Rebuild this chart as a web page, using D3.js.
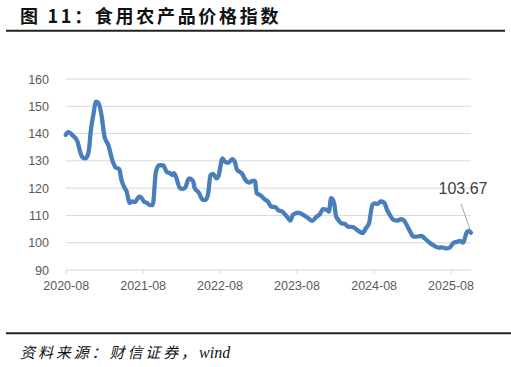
<!DOCTYPE html>
<html>
<head>
<meta charset="utf-8">
<script src="https://cdn.jsdelivr.net/npm/d3@7"></script>
<style>
  html, body { margin: 0; padding: 0; background: #fff; }
  svg { display: block; }
</style>
</head>
<body>
<svg id="chart" width="511" height="367"></svg>
<script>
const titleText = "图 11：食用农产品价格指数";
const sourceText = "资料来源：财信证券，";
const sourceLatin = "wind";
const yTicks = [90, 100, 110, 120, 130, 140, 150, 160];
const xTickDates = ["2020-08-01", "2021-08-01", "2022-08-01", "2023-08-01", "2024-08-01", "2025-08-01"];
const lastLabel = "103.67";

const dates = [
  "2020-08-01","2020-08-13","2020-09-06","2020-09-25","2020-10-08","2020-10-20","2020-11-01","2020-11-14",
  "2020-11-21","2020-11-27","2020-12-10","2020-12-23","2021-01-03","2021-01-19","2021-02-01","2021-02-19",
  "2021-03-13","2021-03-26","2021-04-12","2021-04-22","2021-05-08","2021-05-16","2021-06-01","2021-06-12",
  "2021-06-25","2021-07-16","2021-07-26","2021-08-07","2021-08-19","2021-09-05","2021-09-18","2021-10-03",
  "2021-10-19","2021-11-07","2021-11-23","2021-12-08","2021-12-21","2021-12-27","2022-01-06","2022-01-25",
  "2022-02-07","2022-02-19","2022-03-09","2022-03-28","2022-04-05","2022-04-24","2022-05-14","2022-05-27",
  "2022-06-08","2022-06-19","2022-07-01","2022-07-17","2022-07-26","2022-08-15","2022-08-26","2022-09-11",
  "2022-09-30","2022-10-12","2022-10-23","2022-11-14","2022-12-04","2022-12-19","2023-01-05","2023-01-16",
  "2023-01-24","2023-02-09","2023-03-03","2023-03-18","2023-04-04","2023-04-24","2023-05-05","2023-05-26",
  "2023-06-14","2023-07-03","2023-07-15","2023-08-08","2023-09-02","2023-09-25","2023-10-16","2023-11-01",
  "2023-11-20","2023-12-05","2023-12-24","2024-01-02","2024-01-12","2024-01-26","2024-02-05","2024-02-15",
  "2024-03-01","2024-03-17","2024-04-02","2024-04-26","2024-05-14","2024-06-10","2024-06-25","2024-07-10",
  "2024-07-26","2024-08-07","2024-08-20","2024-09-03","2024-09-20","2024-10-04","2024-10-17","2024-11-02",
  "2024-11-23","2024-12-07","2024-12-19","2025-01-05","2025-01-21","2025-02-06","2025-02-22","2025-03-15",
  "2025-03-31","2025-04-24","2025-05-17","2025-06-03","2025-06-23","2025-07-12","2025-07-28","2025-08-16",
  "2025-09-02","2025-09-14","2025-09-30","2025-10-16","2025-10-28","2025-11-06"
];
const values = [
  139.5,140.5,139.1,137.3,133.4,131.3,130.9,132.2,
  135.2,140.3,146.8,151.7,151.3,146.2,138.9,135.8,
  129.6,127.6,127.0,123.2,120.0,119.0,114.6,115.1,
  114.9,116.9,116.5,115.1,114.7,113.8,113.8,126.0,
  128.4,128.3,126.0,125.5,124.8,125.5,124.2,120.0,
  119.7,120.2,123.6,122.7,120.0,118.4,115.7,115.7,
  118.1,124.8,125.2,123.6,124.2,130.9,129.7,129.3,
  130.6,129.7,126.7,125.5,122.8,122.0,122.7,122.7,
  118.1,117.5,115.9,115.1,113.2,113.0,112.0,111.4,
  109.8,108.1,110.2,111.0,110.2,109.0,108.0,109.3,
  110.5,112.3,112.0,111.4,116.3,114.7,109.6,108.4,
  107.1,106.9,105.9,105.7,104.7,103.5,105.3,107.1,
  113.8,114.4,114.2,115.1,114.7,112.0,110.2,108.4,
  108.1,108.6,108.4,106.5,104.1,102.2,102.2,102.5,
  101.6,100.0,98.8,98.2,98.3,97.9,98.2,100.0,
  100.3,100.7,100.0,103.7,104.3,103.67
];

const parse = d3.timeParse("%Y-%m-%d");
const data = dates.map((d, i) => ({ date: parse(d), value: values[i] }));

const svg = d3.select("#chart");
const x = d3.scaleTime()
  .domain([data[0].date, data[data.length - 1].date])
  .range([65.7, 471]);
const y = d3.scaleLinear().domain([90, 160]).range([270, 79]);

// Title
svg.append("text")
  .attr("x", 20).attr("y", 23)
  .attr("font-family", "'Noto Sans CJK SC', sans-serif")
  .attr("font-weight", "bold")
  .attr("font-size", 18)
  .attr("letter-spacing", 2.7)
  .attr("fill", "#111")
  .text(titleText);
svg.append("line").attr("x1", 6).attr("x2", 505).attr("y1", 30.7).attr("y2", 30.7)
  .attr("stroke", "#222").attr("stroke-width", 2);

// Gridlines
svg.append("g").selectAll("line").data(yTicks.filter(t => t !== 90)).join("line")
  .attr("x1", x.range()[0]).attr("x2", x.range()[1])
  .attr("y1", d => y(d)).attr("y2", d => y(d))
  .attr("stroke", "#d9d9d9").attr("stroke-width", 1);

// Y axis labels
const yAxis = d3.axisLeft(y).tickValues(yTicks).tickSize(0).tickPadding(0);
const gy = svg.append("g").attr("transform", "translate(49,0)").call(yAxis);
gy.select(".domain").remove();
gy.selectAll("text")
  .attr("font-family", "'Liberation Sans', Arial, sans-serif")
  .attr("font-size", 12.5).attr("fill", "#595959");

// X axis
const xAxis = d3.axisBottom(x)
  .tickValues(xTickDates.map(parse))
  .tickFormat(d3.timeFormat("%Y-%m"))
  .tickSize(4).tickPadding(7);
const gx = svg.append("g").attr("transform", `translate(0,${y(90)})`).call(xAxis);
gx.select(".domain").attr("stroke", "#d9d9d9").attr("d", `M${x.range()[0]},0H${x.range()[1]}`);
gx.selectAll(".tick line").attr("stroke", "#d9d9d9");
gx.selectAll("text")
  .attr("font-family", "'Liberation Sans', Arial, sans-serif")
  .attr("font-size", 12.5).attr("fill", "#595959");

// Line
const line = d3.line().x(d => x(d.date)).y(d => y(d.value)).curve(d3.curveMonotoneX);
svg.append("path").datum(data)
  .attr("fill", "none").attr("stroke", "#4a7ebb")
  .attr("stroke-width", 4.3).attr("stroke-linejoin", "round").attr("stroke-linecap", "round")
  .attr("d", line);

// Annotation
const last = data[data.length - 1];
svg.append("line")
  .attr("x1", x(last.date) - 10).attr("y1", y(last.value) - 29)
  .attr("x2", x(last.date) - 0.5).attr("y2", y(last.value) - 2)
  .attr("stroke", "#a6a6a6").attr("stroke-width", 1);
svg.append("text")
  .attr("x", x(last.date) - 8).attr("y", y(last.value) - 39)
  .attr("text-anchor", "middle")
  .attr("font-family", "'Liberation Sans', Arial, sans-serif")
  .attr("font-size", 16).attr("fill", "#404040")
  .text(lastLabel);

// Bottom line and source
svg.append("line").attr("x1", 6).attr("x2", 511).attr("y1", 333.3).attr("y2", 333.3)
  .attr("stroke", "#222").attr("stroke-width", 2);
const src = svg.append("text")
  .attr("x", 20).attr("y", 358)
  .attr("font-size", 15).attr("font-style", "italic").attr("fill", "#111");
src.append("tspan")
  .attr("font-family", "'Noto Sans CJK SC', sans-serif")
  .attr("letter-spacing", 2.9)
  .text(sourceText);
src.append("tspan")
  .attr("font-family", "'Liberation Serif', serif")
  .attr("font-size", 16)
  .text(sourceLatin);
</script>
</body>
</html>
